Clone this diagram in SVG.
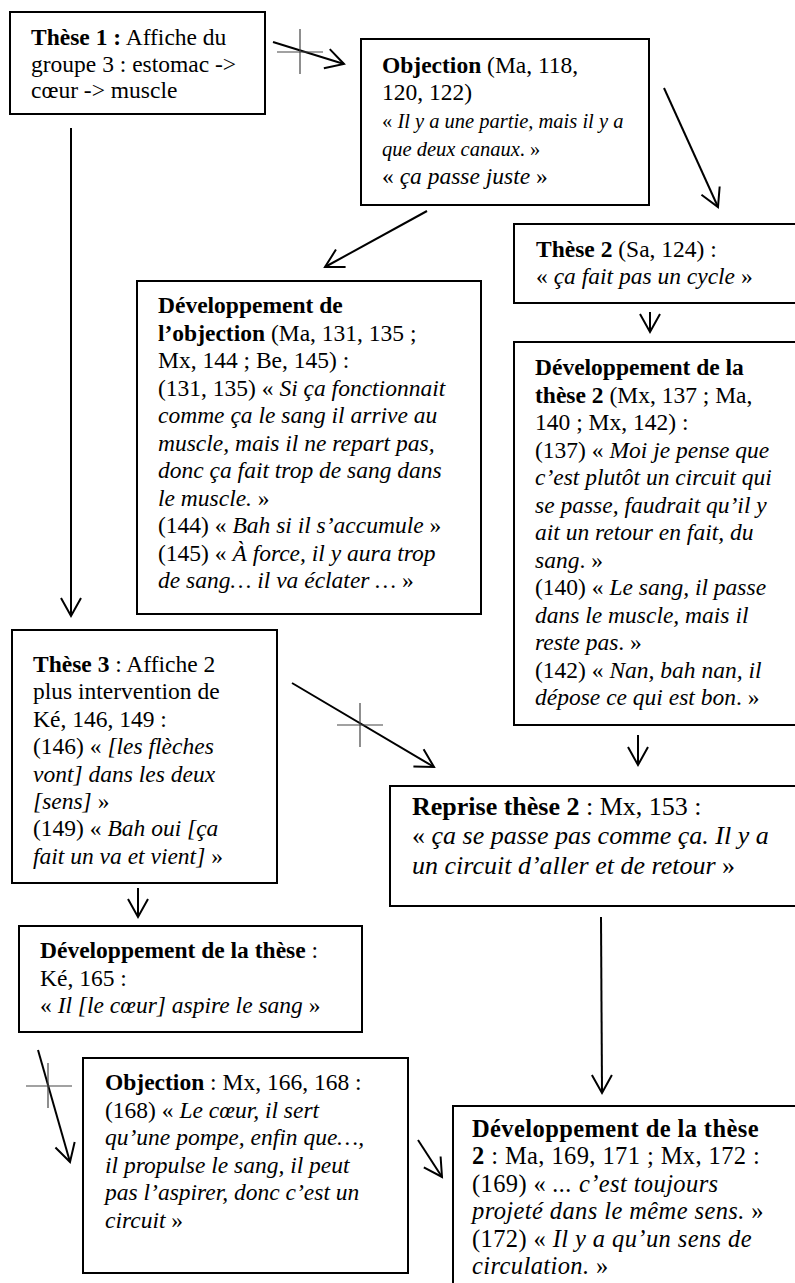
<svg xmlns="http://www.w3.org/2000/svg" width="795" height="1283" viewBox="0 0 795 1283">
<style>
.box{fill:#fff;stroke:#000;stroke-width:2}
text{font-family:"Liberation Serif","Times New Roman",serif;font-size:23.5px;fill:#000}
.b{font-weight:bold}
.i{font-style:italic}
.big{font-size:26px}
.lg{font-size:24.5px;letter-spacing:0.4px}
.sm{font-size:20.5px}
.conn line{stroke:#000;stroke-width:2}
.conn line.x{stroke:#444;stroke-width:1.2}
</style>
<defs>
<marker id="ah" markerUnits="userSpaceOnUse" markerWidth="24" markerHeight="24" viewBox="-20 -12 24 24" refX="0" refY="0" orient="auto" overflow="visible">
<path d="M-18,-10 L0,0 L-18,10" fill="none" stroke="#000" stroke-width="2"/>
</marker>
</defs>
<rect width="795" height="1283" fill="#fff"/>

<g id="these1">
<rect class="box" x="10" y="12" width="255" height="102"/>
<text x="31" y="45"><tspan class="b">Thèse 1 :</tspan> Affiche du</text>
<text x="31" y="72">groupe 3 : estomac -&gt;</text>
<text x="31" y="98">cœur -&gt; muscle</text>
</g>

<g id="objection1">
<rect class="box" x="361" y="39" width="288" height="166"/>
<text x="382" y="73"><tspan class="b">Objection</tspan> (Ma, 118,</text>
<text x="382" y="100">120, 122)</text>
<text x="382" y="128" class="sm">« <tspan class="i">Il y a une partie, mais il y a</tspan></text>
<text x="382" y="156" class="sm"><tspan class="i">que deux canaux</tspan>. »</text>
<text x="382" y="184">« <tspan class="i">ça passe juste</tspan> »</text>
</g>

<g id="these2">
<rect class="box" x="514" y="224" width="290" height="79"/>
<text x="536" y="257"><tspan class="b">Thèse 2</tspan> (Sa, 124) :</text>
<text x="536" y="284">« <tspan class="i">ça fait pas un cycle</tspan> »</text>
</g>

<g id="dev-objection">
<rect class="box" x="137" y="281" width="344" height="333"/>
<text x="158" y="313"><tspan class="b">Développement de</tspan></text>
<text x="158" y="340.5"><tspan class="b">l’objection</tspan> (Ma, 131, 135 ;</text>
<text x="158" y="368">Mx, 144 ; Be, 145) :</text>
<text x="158" y="395.5">(131, 135) « <tspan class="i">Si ça fonctionnait</tspan></text>
<text x="158" y="423"><tspan class="i">comme ça le sang il arrive au</tspan></text>
<text x="158" y="450.5"><tspan class="i">muscle, mais il ne repart pas,</tspan></text>
<text x="158" y="478"><tspan class="i">donc ça fait trop de sang dans</tspan></text>
<text x="158" y="505.5"><tspan class="i">le muscle.</tspan> »</text>
<text x="158" y="533">(144) « <tspan class="i">Bah si il s’accumule</tspan> »</text>
<text x="158" y="560.5">(145) « <tspan class="i">À force, il y aura trop</tspan></text>
<text x="158" y="588"><tspan class="i">de sang… il va éclater …</tspan> »</text>
</g>

<g id="dev-these2">
<rect class="box" x="514" y="342" width="290" height="383"/>
<text x="535" y="375"><tspan class="b">Développement de la</tspan></text>
<text x="535" y="402.5"><tspan class="b">thèse 2</tspan> (Mx, 137 ; Ma,</text>
<text x="535" y="430">140 ; Mx, 142) :</text>
<text x="535" y="457.5">(137) « <tspan class="i">Moi je pense que</tspan></text>
<text x="535" y="485"><tspan class="i">c’est plutôt un circuit qui</tspan></text>
<text x="535" y="512.5"><tspan class="i">se passe, faudrait qu’il y</tspan></text>
<text x="535" y="540"><tspan class="i">ait un retour en fait, du</tspan></text>
<text x="535" y="567.5"><tspan class="i">sang</tspan>. »</text>
<text x="535" y="595">(140) « <tspan class="i">Le sang, il passe</tspan></text>
<text x="535" y="622.5"><tspan class="i">dans le muscle, mais il</tspan></text>
<text x="535" y="650"><tspan class="i">reste pas</tspan>. »</text>
<text x="535" y="677.5">(142) « <tspan class="i">Nan, bah nan, il</tspan></text>
<text x="535" y="705"><tspan class="i">dépose ce qui est bon</tspan>. »</text>
</g>

<g id="these3">
<rect class="box" x="12" y="630" width="265" height="253"/>
<text x="33" y="672"><tspan class="b">Thèse 3</tspan> : Affiche 2</text>
<text x="33" y="699.4">plus intervention de</text>
<text x="33" y="726.8">Ké, 146, 149 :</text>
<text x="33" y="754.2">(146) « <tspan class="i">[les flèches</tspan></text>
<text x="33" y="781.6"><tspan class="i">vont] dans les deux</tspan></text>
<text x="33" y="809"><tspan class="i">[sens]</tspan> »</text>
<text x="33" y="836.4">(149) « <tspan class="i">Bah oui [ça</tspan></text>
<text x="33" y="863.8"><tspan class="i">fait un va et vient]</tspan> »</text>
</g>

<g id="reprise-these2">
<rect class="box" x="390" y="786" width="414" height="120"/>
<text x="412" y="815" class="big"><tspan class="b">Reprise thèse 2</tspan> : Mx, 153 :</text>
<text x="412" y="844" class="big">« <tspan class="i">ça se passe pas comme ça. Il y a</tspan></text>
<text x="412" y="874" class="big"><tspan class="i">un circuit d’aller et de retour</tspan> »</text>
</g>

<g id="dev-these">
<rect class="box" x="19" y="926" width="343" height="106"/>
<text x="40" y="958"><tspan class="b">Développement de la thèse</tspan> :</text>
<text x="40" y="985.5">Ké, 165 :</text>
<text x="40" y="1013">« <tspan class="i">Il [le cœur] aspire le sang</tspan> »</text>
</g>

<g id="objection2">
<rect class="box" x="83" y="1058" width="325" height="215"/>
<text x="105" y="1090"><tspan class="b">Objection</tspan> : Mx, 166, 168 :</text>
<text x="105" y="1117.6">(168) « <tspan class="i">Le cœur, il sert</tspan></text>
<text x="105" y="1145.2"><tspan class="i">qu’une pompe, enfin que…,</tspan></text>
<text x="105" y="1172.8"><tspan class="i">il propulse le sang, il peut</tspan></text>
<text x="105" y="1200.4"><tspan class="i">pas l’aspirer, donc c’est un</tspan></text>
<text x="105" y="1228"><tspan class="i">circuit</tspan> »</text>
</g>

<g id="dev-these2-b">
<rect class="box" x="453" y="1106" width="351" height="190"/>
<text x="472" y="1137" class="lg"><tspan class="b">Développement de la thèse</tspan></text>
<text x="472" y="1164.4" class="lg"><tspan class="b">2</tspan> : Ma, 169, 171 ; Mx, 172 :</text>
<text x="472" y="1191.8" class="lg">(169) « <tspan class="i">... c’est toujours</tspan></text>
<text x="472" y="1219.2" class="lg"><tspan class="i">projeté dans le même sens.</tspan> »</text>
<text x="472" y="1246.6" class="lg">(172) « <tspan class="i">Il y a qu’un sens de</tspan></text>
<text x="472" y="1274" class="lg"><tspan class="i">circulation.</tspan> »</text>
</g>

<g id="connectors" class="conn">
<line x1="273" y1="42" x2="344" y2="64" marker-end="url(#ah)"/>
<line class="x" x1="277" y1="52" x2="323" y2="52"/>
<line class="x" x1="300" y1="29" x2="300" y2="74"/>
<line x1="71" y1="128" x2="71" y2="616" marker-end="url(#ah)"/>
<line x1="664" y1="88" x2="718" y2="207" marker-end="url(#ah)"/>
<line x1="427" y1="211" x2="325" y2="267" marker-end="url(#ah)"/>
<line x1="650" y1="312" x2="650" y2="332" marker-end="url(#ah)"/>
<line x1="638" y1="735" x2="638" y2="765" marker-end="url(#ah)"/>
<line x1="292" y1="683" x2="434" y2="767" marker-end="url(#ah)"/>
<line class="x" x1="337" y1="725" x2="383" y2="725"/>
<line class="x" x1="360" y1="703" x2="360" y2="747"/>
<line x1="138" y1="888" x2="138" y2="917" marker-end="url(#ah)"/>
<line x1="601" y1="917" x2="602" y2="1093" marker-end="url(#ah)"/>
<line x1="38" y1="1050" x2="70" y2="1162" marker-end="url(#ah)"/>
<line class="x" x1="26" y1="1086" x2="72" y2="1086"/>
<line class="x" x1="48" y1="1063" x2="48" y2="1108"/>
<line x1="418" y1="1140" x2="442" y2="1177" marker-end="url(#ah)"/>
</g>
</svg>
